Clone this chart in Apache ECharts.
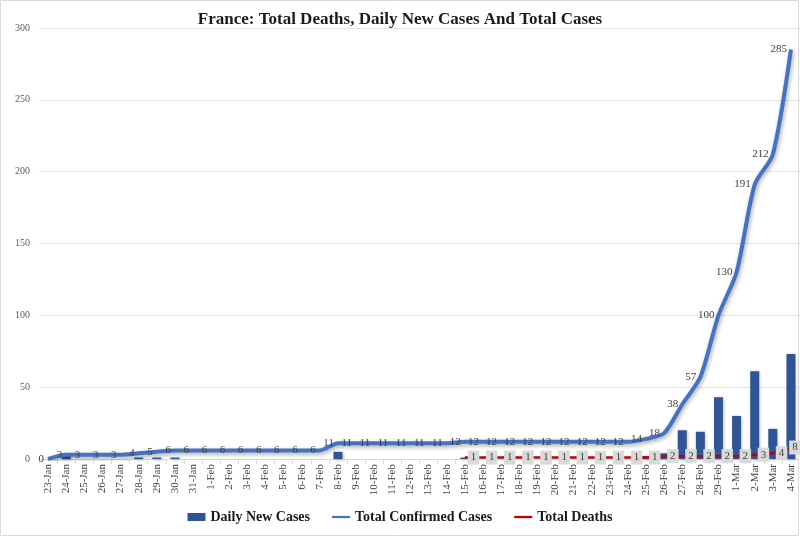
<!DOCTYPE html>
<html><head><meta charset="utf-8">
<script src="https://cdn.jsdelivr.net/npm/echarts@6/dist/echarts.min.js"></script>
<style>html,body{margin:0;padding:0;background:#fff}#c{width:800px;height:537px}</style>
</head><body><div id="c"></div>
<script>
var categories = ['23-Jan','24-Jan','25-Jan','26-Jan','27-Jan','28-Jan','29-Jan','30-Jan','31-Jan',
 '1-Feb','2-Feb','3-Feb','4-Feb','5-Feb','6-Feb','7-Feb','8-Feb','9-Feb','10-Feb','11-Feb','12-Feb','13-Feb','14-Feb',
 '15-Feb','16-Feb','17-Feb','18-Feb','19-Feb','20-Feb','21-Feb','22-Feb','23-Feb','24-Feb','25-Feb','26-Feb','27-Feb','28-Feb','29-Feb',
 '1-Mar','2-Mar','3-Mar','4-Mar'];
var dailyNewCases = [0,3,0,0,0,1,1,1,0,
 0,0,0,0,0,0,0,5,0,0,0,0,0,0,
 1,0,0,0,0,0,0,0,0,0,2,4,20,19,43,
 30,61,21,73];
var totalConfirmed = [0,3,3,3,3,4,5,6,6,
 6,6,6,6,6,6,6,11,11,11,11,11,11,11,
 12,12,12,12,12,12,12,12,12,12,14,18,38,57,100,
 130,191,212,285];
var totalDeaths = [null,null,null,null,null,null,null,null,null,
 null,null,null,null,null,null,null,null,null,null,null,null,null,null,
 1,1,1,1,1,1,1,1,1,1,1,2,2,2,2,
 2,3,4,8];
var yTicks = {min:0, max:300, interval:50};

var serif = '"Liberation Serif", "DejaVu Serif", serif';
var deathData = totalDeaths.map(function(v,i){
  if (i === totalDeaths.length-1 && v != null) return {value:v, label:{position:'inside', offset:[4,0]}};
  return v;
});
var lineIcon = 'path://M0,0 L24,0 L24,3 L0,3 Z';
var chart = echarts.init(document.getElementById('c'));
chart.setOption({
  animation:false,
  title:{text:'France: Total Deaths, Daily New Cases And Total Cases', left:'center', top:6,
    textStyle:{fontFamily:serif, fontWeight:'bold', fontSize:17, color:'#1a1a1a'}},
  graphic:[{type:'rect', shape:{x:0.5,y:0.5,width:798,height:535}, style:{fill:'none', stroke:'#d9d9d9', lineWidth:1}, silent:true}],
  grid:{left:39, right:0, top:28, bottom:78, containLabel:false},
  legend:{bottom:8, left:'center', itemGap:22, itemWidth:18, itemHeight:8,
    textStyle:{fontFamily:serif, fontWeight:'bold', fontSize:14, color:'#1a1a1a'},
    data:[{name:'Daily New Cases', icon:'rect'},{name:'Total Confirmed Cases', icon:lineIcon},{name:'Total Deaths', icon:lineIcon}]},
  xAxis:{type:'category', data:categories, boundaryGap:true,
    axisLine:{lineStyle:{color:'#d9d9d9'}},
    axisTick:{show:true, interval:0, length:5, lineStyle:{color:'#d9d9d9'}},
    axisLabel:{interval:0, rotate:90, fontFamily:serif, fontSize:11, color:'#404040', margin:5}},
  yAxis:{type:'value', min:yTicks.min, max:yTicks.max, interval:yTicks.interval,
    axisLine:{show:false}, axisTick:{show:false},
    axisLabel:{fontFamily:serif, fontSize:10, color:'#595959', margin:9},
    splitLine:{lineStyle:{color:'#e3e3e3'}}},
  series:[
    {name:'Daily New Cases', type:'bar', data:dailyNewCases, barWidth:9,
      itemStyle:{color:'#2F5597', shadowColor:'rgba(0,0,0,0.3)', shadowBlur:3, shadowOffsetX:1, shadowOffsetY:1}},
    {name:'Total Confirmed Cases', type:'line', data:totalConfirmed, smooth:0.25, showSymbol:true, symbol:'circle', symbolSize:0,
      lineStyle:{color:'#4472C4', width:4, shadowColor:'rgba(0,0,0,0.35)', shadowBlur:4, shadowOffsetX:1, shadowOffsetY:2},
      itemStyle:{color:'#4472C4'},
      label:{show:true, position:'left', distance:4, fontFamily:serif, fontSize:11, color:'#404040'}},
    {name:'Total Deaths', type:'line', data:deathData, smooth:0.25, showSymbol:true, symbol:'circle', symbolSize:0,
      lineStyle:{color:'#C00000', width:2.5},
      itemStyle:{color:'#C00000'},
      label:{show:true, position:'right', distance:3, fontFamily:serif, fontSize:11, color:'#404040',
        backgroundColor:'#d9d9d9', padding:[2,3,1,3]}}
  ]
});
</script></body></html>
